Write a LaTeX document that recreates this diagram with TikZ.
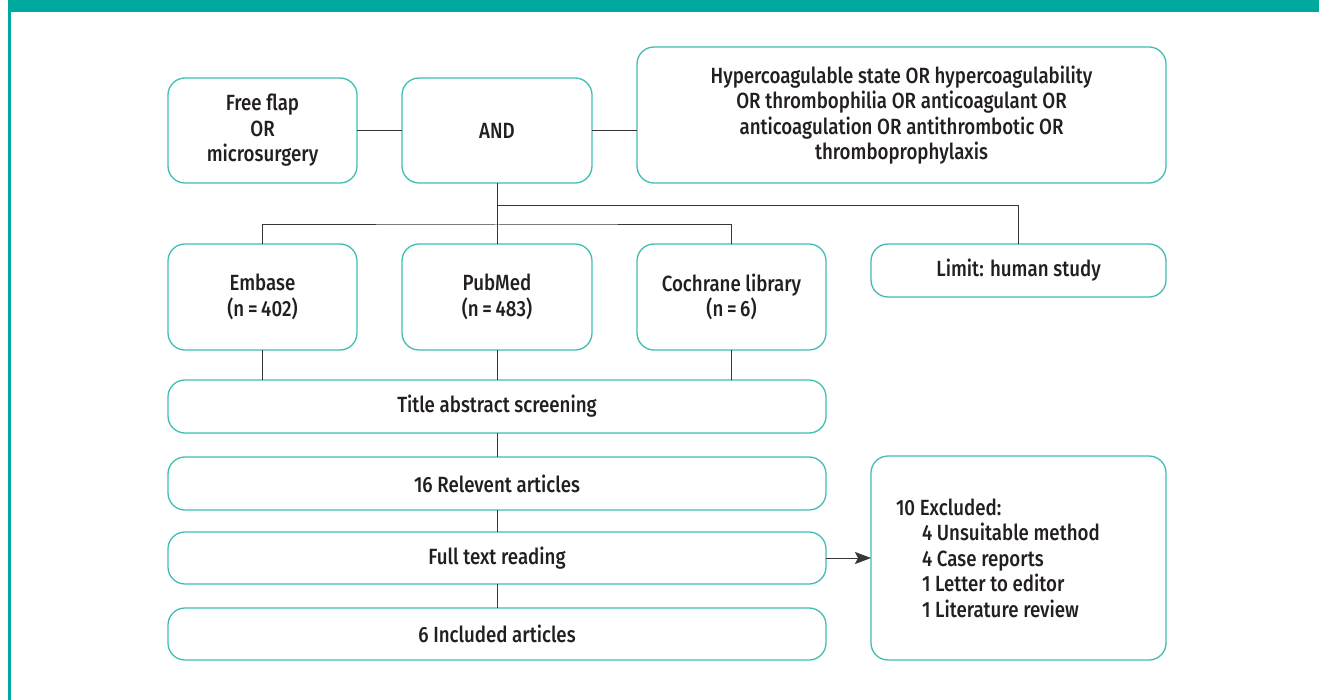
\documentclass[tikz,border=0pt]{standalone}
\usepackage{fontspec}
\setmainfont{Fira Sans Medium}[FakeStretch=0.85]
\usetikzlibrary{arrows.meta}
\definecolor{teal1}{RGB}{0,169,157}
\definecolor{boxline}{RGB}{64,190,180}
\definecolor{txt}{RGB}{35,31,32}
\definecolor{conn}{RGB}{55,55,55}
\begin{document}
\begin{tikzpicture}[x=1pt,y=-1pt,
  box/.style={draw=boxline, line width=1.3pt, rounded corners=17pt, align=center,
    text=txt, font=\fontsize{22}{25.5}\selectfont, inner sep=0pt, outer sep=0pt},
  link/.style={draw=conn, line width=1pt}]
\fill[white] (0,0) rectangle (1319,700);
\useasboundingbox (0,0) rectangle (1319,700);
\fill[teal1] (8,0) rectangle (1319,12);
\fill[teal1] (8,0) rectangle (10.5,700);

\node[box, minimum width=189pt, minimum height=105pt] (free) at (262.5,130.5) {Free flap\\OR\\microsurgery};
\node[box, minimum width=190pt, minimum height=105pt] (and) at (497,130.5) {AND};
\node[box, minimum width=529pt, minimum height=136pt] (hyper) at (901.5,115) {Hypercoagulable state OR hypercoagulability\\OR thrombophilia OR anticoagulant OR\\anticoagulation OR antithrombotic OR\\thromboprophylaxis};
\node[box, minimum width=189pt, minimum height=106pt] (embase) at (262.5,297) {Embase\\(n\,=\,402)};
\node[box, minimum width=190pt, minimum height=106pt] (pubmed) at (497,297) {PubMed\\(n\,=\,483)};
\node[box, minimum width=189pt, minimum height=106pt] (cochrane) at (731.5,297) {Cochrane library\\(n\,=\,6)};
\node[box, minimum width=295pt, minimum height=53pt] (limit) at (1018.5,270.5) {Limit: human study};
\node[box, minimum width=658pt, minimum height=53pt] (title) at (497,406.5) {Title abstract screening};
\node[box, minimum width=658pt, minimum height=53pt] (relev) at (497,483.5) {16 Relevent articles};
\node[box, minimum width=658pt, minimum height=52pt] (full) at (497,558) {Full text reading};
\node[box, minimum width=658pt, minimum height=52pt] (incl) at (497,634) {6 Included articles};
\node[box, minimum width=295pt, minimum height=204pt, align=left] (excl) at (1018.5,558)
  {\makebox[245pt][l]{10 Excluded:}\\\hspace*{26pt}4 Unsuitable method\\\hspace*{26pt}4 Case reports\\\hspace*{26pt}1 Letter to editor\\\hspace*{26pt}1 Literature review};

\coordinate (b1) at (497,206);
\coordinate (b2) at (497,225);

\draw[link] (free.east) -- (and.west);
\draw[link] (and.east) -- (and.east -| hyper.west);
\draw[link] (and.south) -- (pubmed.north);
\draw[link] (b1) -| (limit.north);
\draw[link] (embase.north) |- (b2) -| (cochrane.north);
\draw[link] (embase.south) -- (embase.south |- title.north);
\draw[link] (pubmed.south) -- (title.north);
\draw[link] (cochrane.south) -- (cochrane.south |- title.north);
\draw[link] (title.south) -- (relev.north);
\draw[link] (relev.south) -- (full.north);
\draw[link] (full.south) -- (incl.north);
\draw[link, -{Stealth[length=16pt,width=12pt,inset=3pt]}] (full.east) -- (excl.west);
\end{tikzpicture}
\end{document}
